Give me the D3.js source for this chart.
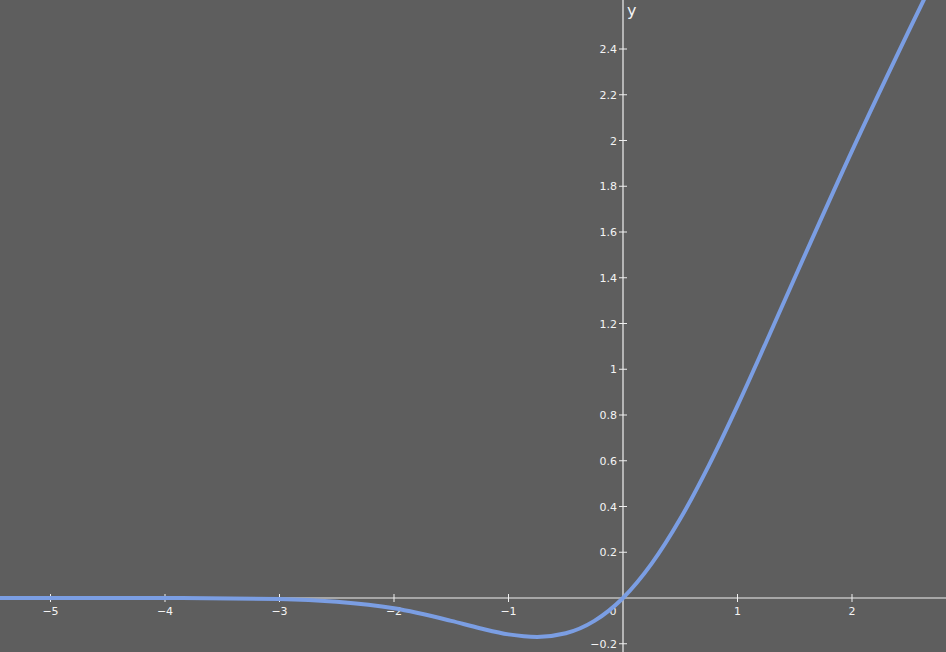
<!DOCTYPE html>
<html><head><meta charset="utf-8">
<script src="https://cdn.jsdelivr.net/npm/d3@7"></script>
<style>body{margin:0;background:#5e5e5e;overflow:hidden}</style>
</head><body><div id="chart"></div>
<script>
const xs = [-5.5, -4, -3, -2.5, -2, -1.5, -1.25, -1, -0.75, -0.5, -0.25, 0, 0.25, 0.5, 0.75, 1, 1.25, 1.5, 2, 2.5, 2.9];
const ys = [0, 0, -0.004, -0.016, -0.045, -0.100, -0.132, -0.159, -0.170, -0.154, -0.100, 0, 0.150, 0.346, 0.580, 0.841, 1.118, 1.400, 1.955, 2.484, 2.895];
const xTicks = [-5, -4, -3, -2, -1, 0, 1, 2];
const yTicks = [-0.2, 0.2, 0.4, 0.6, 0.8, 1, 1.2, 1.4, 1.6, 1.8, 2, 2.2, 2.4];

const width = 946, height = 652;
const svg = d3.select("#chart").append("svg").attr("width", width).attr("height", height);
svg.append("rect").attr("width", width).attr("height", height).attr("fill", "#5e5e5e");

const x = d3.scaleLinear().domain([0, 1]).range([623, 737.5]);
const y = d3.scaleLinear().domain([0, 1]).range([598, 369.25]);

// axes
svg.append("line").attr("x1", 0).attr("x2", width).attr("y1", y(0)).attr("y2", y(0))
    .attr("stroke", "#f0f0f0").attr("stroke-width", 1.2);
svg.append("line").attr("x1", x(0)).attr("x2", x(0)).attr("y1", 0).attr("y2", height)
    .attr("stroke", "#f0f0f0").attr("stroke-width", 1.2);

const tx = svg.append("g");
tx.selectAll("line").data(xTicks.filter(d => d !== 0)).join("line")
    .attr("x1", d => x(d)).attr("x2", d => x(d)).attr("y1", y(0) - 4).attr("y2", y(0) + 4)
    .attr("stroke", "#f0f0f0");
tx.selectAll("text").data(xTicks).join("text")
    .attr("x", d => d === 0 ? x(0) - 10 : x(d))
    .attr("y", y(0) + 17)
    .attr("text-anchor", "middle")
    .attr("font-family", "DejaVu Sans").attr("font-size", 11).attr("fill", "#f4f4f4")
    .text(d => d < 0 ? "\u2212" + Math.abs(d) : d);

const ty = svg.append("g");
ty.selectAll("line").data(yTicks).join("line")
    .attr("x1", x(0) - 4).attr("x2", x(0) + 4).attr("y1", d => y(d)).attr("y2", d => y(d))
    .attr("stroke", "#f0f0f0");
ty.selectAll("text").data(yTicks).join("text")
    .attr("x", x(0) - 6).attr("y", d => y(d) + 4)
    .attr("text-anchor", "end")
    .attr("font-family", "DejaVu Sans").attr("font-size", 11).attr("fill", "#f4f4f4")
    .text(d => d < 0 ? "\u2212" + Math.abs(d) : d);

svg.append("text").attr("x", x(0) + 4).attr("y", 16)
    .attr("font-family", "DejaVu Sans").attr("font-size", 16).attr("fill", "#f4f4f4").text("y");

const data = xs.map((d, i) => [d, ys[i]]);
svg.append("path").datum(data)
    .attr("fill", "none").attr("stroke", "#7b9ee3").attr("stroke-width", 4)
    .attr("d", d3.line().x(d => x(d[0])).y(d => y(d[1])).curve(d3.curveMonotoneX));
</script></body></html>
